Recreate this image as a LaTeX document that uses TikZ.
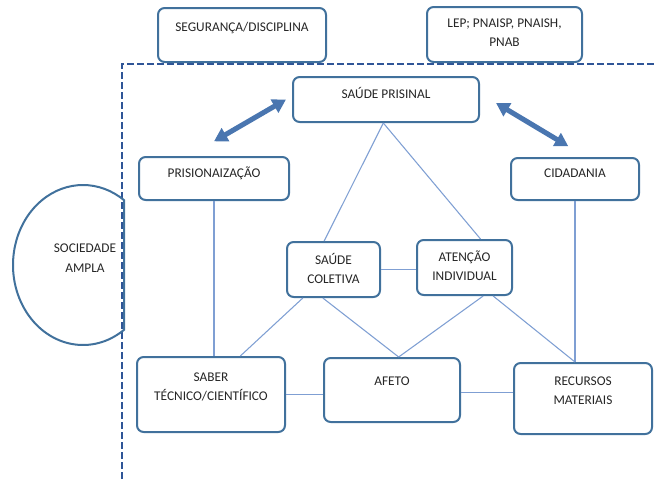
\documentclass[tikz,border=0pt]{standalone}
\usepackage{fontspec}
\setmainfont{Carlito}
\usetikzlibrary{arrows.meta, positioning}
\definecolor{boxblue}{HTML}{41719C}
\definecolor{linkblue}{HTML}{7F9FD3}
\definecolor{arrowblue}{HTML}{4A76B0}
\definecolor{frameblue}{HTML}{2F5597}

\begin{document}
\begin{tikzpicture}[x=0.75pt, y=-0.75pt, font=\fontsize{10}{14.6}\selectfont,
    box/.style={draw=boxblue, line width=1.5pt, rounded corners=5pt, fill=white, align=center, text=black!85, text height=7pt},
    twoline/.style={text height=21.6pt},
    link/.style={draw=linkblue, line width=0.8pt},
    bigarrow/.style={arrowblue, line width=3.8pt, {Triangle[length=10pt,width=11pt]}-{Triangle[length=10pt,width=11pt]}}]
    \useasboundingbox (0,0) rectangle (654,482);
    % moldura tracejada
    \draw[frameblue, line width=1.2pt, dash pattern=on 5pt off 2.5pt] (654,64) -- (122,64) -- (122,482);
    % sociedade ampla
    \draw[boxblue, line width=1.5pt] (83,265) ++(54.1:70 and 80) arc[start angle=54.1, end angle=305.9, x radius=70, y radius=80] -- cycle;
    \node[text=black!85, align=center] (soc) at (85,258) {SOCIEDADE\\AMPLA};

    \node[box, minimum width=126pt, minimum height=40.5pt, text depth=13pt] (seg) at (242,35) {SEGURANÇA/DISCIPLINA};
    \node[box, twoline, minimum width=116.25pt, minimum height=41.25pt, text depth=3.65pt] (lep) at (504.5,34.5) {LEP; PNAISP, PNAISH,\\PNAB};
    \node[box, minimum width=139.5pt, minimum height=33.75pt, text depth=9.25pt] (prisinal) at (386,99.5) {SAÚDE PRISINAL};
    \node[box, minimum width=112.5pt, minimum height=32.25pt, text depth=9.25pt] (prision) at (214,178.5) {PRISIONAIZAÇÃO};
    \node[box, minimum width=96pt, minimum height=31.5pt, text depth=10pt] (cidadania) at (575,179) {CIDADANIA};
    \node[box, twoline, minimum width=69.75pt, minimum height=41.25pt, text depth=0.65pt] (coletiva) at (333.5,269.5) {SAÚDE\\COLETIVA};
    \node[box, twoline, minimum width=71.25pt, minimum height=41.25pt, text depth=2.15pt] (atencao) at (464.5,267.5) {ATENÇÃO\\INDIVIDUAL};
    \node[box, twoline, minimum width=111pt, minimum height=56.25pt, text depth=12.65pt] (saber) at (211,394.5) {SABER\\TÉCNICO/CIENTÍFICO};
    \node[box, minimum width=102pt, minimum height=48pt, text depth=14.5pt] (afeto) at (392,390) {AFETO};
    \node[box, twoline, minimum width=103.5pt, minimum height=53.25pt, text depth=12.65pt] (recursos) at (583,398.5) {RECURSOS\\MATERIAIS};

    % setas duplas
    \draw[bigarrow] ([xshift=-4.5pt]prisinal.west) -- ([yshift=11pt]prision.north);
    \draw[bigarrow] ([xshift=12pt,yshift=-2.6pt]prisinal.east) -- ([xshift=-5pt,yshift=8pt]cidadania.north);

    % ligacoes
    \draw[link] ([xshift=-2pt]prisinal.south) -- ([xshift=-7pt]coletiva.north);
    \draw[link] ([xshift=-2pt]prisinal.south) -- ([xshift=12pt]atencao.north);
    \draw[link] (prision.south) -- (prision.south |- saber.north);
    \draw[link] (cidadania.south) -- (cidadania.south |- recursos.north);
    \draw[link] (coletiva.east) -- (coletiva.east -| atencao.west);
    \draw[link] ([xshift=-23pt]coletiva.south) -- ([xshift=22pt]saber.north);
    \draw[link] ([xshift=-8pt]coletiva.south) -- ([xshift=5pt]afeto.north);
    \draw[link] ([xshift=14pt]atencao.south) -- ([xshift=5pt]afeto.north);
    \draw[link] ([xshift=21.5pt]atencao.south) -- (cidadania.south |- recursos.north);
    \draw[link] (saber.east) -- (saber.east -| afeto.west);
    \draw[link] ([yshift=-2pt]afeto.east) -- ([yshift=-2pt]afeto.east -| recursos.west);
\end{tikzpicture}
\end{document}
